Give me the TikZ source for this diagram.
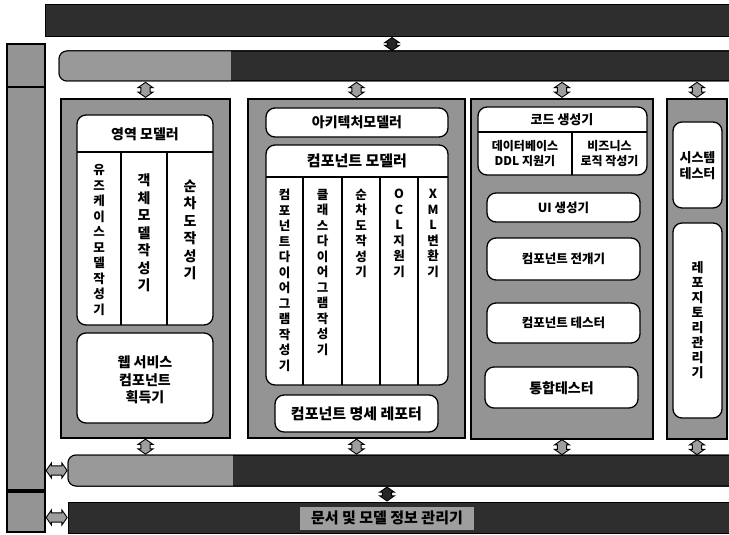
\documentclass[tikz,border=0pt]{standalone}
\usepackage{fontspec}
\setmainfont{Noto Sans CJK KR}
\usetikzlibrary{shapes.arrows,fit,calc}
\tikzset{
  darkbar/.style={draw=black, line width=1pt, fill=black!82, inner sep=0pt},
  graypanel/.style={draw=black, line width=1.6pt, fill=black!42, inner sep=0pt},
  wbox/.style={draw=black, line width=1.3pt, fill=white, rounded corners=9pt, inner sep=0pt},
  sqline/.style={draw=black, line width=1.2pt},
  hdr/.style={font=\bfseries\fontsize{14}{17.5}\selectfont, align=center, inner sep=0pt},
  mid/.style={font=\bfseries\fontsize{12.5}{15}\selectfont, align=center, inner sep=0pt},
  vtxt/.style={font=\bfseries\fontsize{12.5}{15.5}\selectfont, align=center, inner sep=0pt},
  vbig/.style={font=\bfseries\fontsize{14}{17.5}\selectfont, align=center, inner sep=0pt},
  harrow/.style={double arrow, draw=black, line width=0.9pt, fill=black!38,
    inner xsep=0pt, inner ysep=4.2pt, double arrow head extend=2.8pt,
    double arrow tip angle=110},
  varrow/.style={harrow, rotate=90},
  blackfill/.style={fill=black!85},
}
\begin{document}
\begin{tikzpicture}[x=1pt,y=-1pt]
\useasboundingbox (0,0) rectangle (729,535);
\clip (0,0) rectangle (729,535);

% ---------- horizontal bars ----------
\node[darkbar, fit={(45,5) (745,37)}] (top) {};

\node[darkbar, rounded corners=8pt, fit={(59,51) (745,81)}] (bar2) {};
\begin{scope}
  \clip[rounded corners=8pt] (59,51) rectangle (745,81);
  \fill[black!40] (59,51) rectangle (231,81);
\end{scope}
\draw[line width=1pt, rounded corners=8pt] (59,51) rectangle (745,81);

\node[darkbar, rounded corners=8pt, fit={(68,455) (745,486)}] (bar3) {};
\begin{scope}
  \clip[rounded corners=8pt] (68,455) rectangle (745,486);
  \fill[black!40] (68,455) rectangle (233,486);
\end{scope}
\draw[line width=1pt, rounded corners=8pt] (68,455) rectangle (745,486);

\node[darkbar, fit={(68,502) (745,533)}] (bar4) {};
\node[fill=black!38, minimum width=174pt, minimum height=23pt, inner sep=0pt,
      font=\bfseries\fontsize{15}{18}\selectfont] (docmgr) at (387,518) {문서 및 모델 정보 관리기};

% ---------- left vertical bar ----------
\node[graypanel, fit={(7,44) (45,87)}] (lefta) {};
\node[graypanel, fit={(7,87) (45,490)}] (leftb) {};
\node[graypanel, fit={(7,492) (45,532)}] (leftc) {};

% ---------- column 1 ----------
\node[graypanel, fit={(61,99) (230,438)}] (col1) {};
\node[wbox, fit={(77,115) (213,325)}] (domain) {};
\draw[sqline] (77,152) -- (213,152);
\draw[sqline] (121,152) -- (121,325);
\draw[sqline] (167,152) -- (167,325);
\node[hdr] (domainhdr) at (145,134) {영역 모델러};
\node[vtxt] (usecase) at (99,240) {유\\즈\\케\\이\\스\\모\\델\\작\\성\\기};
\node[vbig] (objmodel) at (144,233) {객\\체\\모\\델\\작\\성\\기};
\node[vbig] (seq1) at (190,230) {순\\차\\도\\작\\성\\기};
\node[wbox, fit={(77,333) (213,423)}] (websvc) {};
\node[hdr] (websvctxt) at (145,380) {웹 서비스\\컴포넌트\\획득기};

% ---------- column 2 ----------
\node[graypanel, fit={(248,99) (465,438)}] (col2) {};
\node[wbox, fit={(266,108) (448,137)}] (arch) {};
\node[hdr] (archtxt) at (357,122.5) {아키텍처모델러};
\node[wbox, fit={(266,145) (448,385)}] (comp) {};
\draw[sqline] (266,177) -- (448,177);
\foreach \xx in {303,342,380,418} \draw[sqline] (\xx,177) -- (\xx,385);
\node[hdr, font=\bfseries\fontsize{15}{18}\selectfont] (comphdr) at (357,161) {컴포넌트 모델러};
\node[vtxt, anchor=north] (cdiag) at (284.5,189) {컴\\포\\넌\\트\\다\\이\\어\\그\\램\\작\\성\\기};
\node[vtxt, anchor=north] (classd) at (322.5,189) {클\\래\\스\\다\\이\\어\\그\\램\\작\\성\\기};
\node[vtxt, anchor=north] (seq2) at (361,189) {순\\차\\도\\작\\성\\기};
\node[vtxt, anchor=north] (ocl) at (399,189) {O\\C\\L\\지\\원\\기};
\node[vtxt, anchor=north] (xml) at (433,189) {X\\M\\L\\변\\환\\기};
\node[wbox, fit={(275,395) (438,432)}] (spec) {};
\node[hdr, font=\bfseries\fontsize{15}{18}\selectfont] (spectxt) at (356.5,413.5) {컴포넌트 명세 레포터};

% ---------- column 3 ----------
\node[graypanel, fit={(471,99) (653,439)}] (col3) {};
\node[wbox, fit={(478,107) (647,175)}] (codegen) {};
\draw[sqline] (478,132) -- (647,132);
\draw[sqline] (572,132) -- (572,175);
\node[mid, font=\bfseries\fontsize{13}{16}\selectfont] (codegentxt) at (562,120) {코드 생성기};
\node[mid, font=\bfseries\fontsize{12}{15}\selectfont] (ddl) at (525,153.5) {데이터베이스\\DDL 지원기};
\node[mid, font=\bfseries\fontsize{12}{15}\selectfont] (biz) at (609.5,153.5) {비즈니스\\로직 작성기};
\node[wbox, fit={(487,193) (640,222)}] (uigen) {};
\node[mid] (uigentxt) at (563.5,208) {UI 생성기};
\node[wbox, fit={(487,238) (640,280)}] (deploy) {};
\node[mid] (deploytxt) at (563.5,259) {컴포넌트 전개기};
\node[wbox, fit={(487,303) (640,343)}] (ctest) {};
\node[mid] (ctesttxt) at (563.5,323) {컴포넌트 테스터};
\node[wbox, fit={(485,367) (638,408)}] (itest) {};
\node[hdr] (itesttxt) at (561.5,388) {통합테스터};

% ---------- column 4 ----------
\node[graypanel, fit={(667,99) (727,439)}] (col4) {};
\node[wbox, fit={(673,122) (722,208)}] (systest) {};
\node[mid, font=\bfseries\fontsize{13}{16}\selectfont] (systesttxt) at (697.5,166) {시스템\\테스터};
\node[wbox, fit={(673,223) (722,418)}] (repo) {};
\node[vtxt, font=\bfseries\fontsize{13}{15}\selectfont] (repotxt) at (697.5,320) {레\\포\\지\\토\\리\\관\\리\\기};

% ---------- double arrows ----------
\node[varrow, blackfill, minimum height=13pt] (a0) at ($(top.south -| 392,0)!0.5!(bar2.north -| 392,0)$) {};
\foreach \c in {col1,col2,col3,col4} {
  \node[varrow, minimum height=15pt] (up-\c) at ($(\c.north)!0.5!(\c.north |- bar2.south)$) {};
  \node[varrow, minimum height=15pt] (dn-\c) at ($(\c.south)!0.5!(\c.south |- bar3.north)$) {};
}
\node[varrow, blackfill, minimum height=14pt] (a34) at ($(bar3.south -| docmgr.north)!0.5!(docmgr.north |- bar4.north)$) {};
\node[harrow, minimum height=21pt] (l3) at ($(leftb.east |- bar3.west)!0.5!(bar3.west)$) {};
\node[harrow, minimum height=21pt] (l4) at ($(leftc.east |- bar4.west)!0.5!(bar4.west)$) {};
\end{tikzpicture}
\end{document}
